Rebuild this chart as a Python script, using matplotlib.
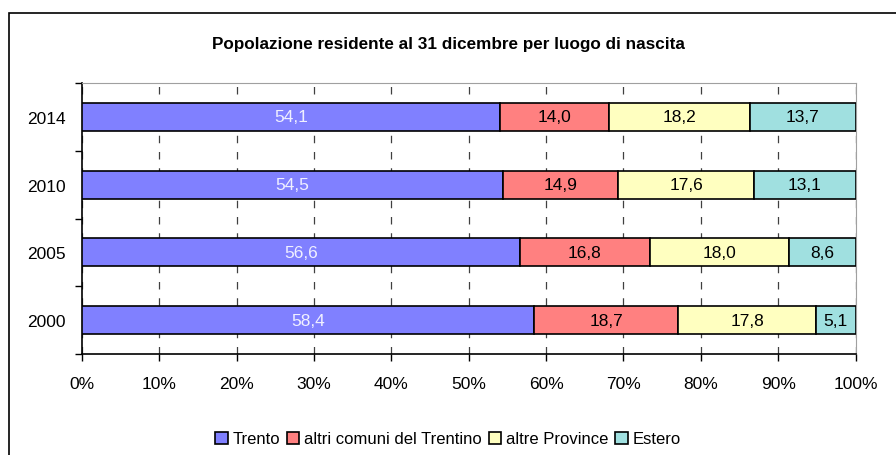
import numpy as np
import matplotlib.pyplot as plt
from matplotlib.patches import Rectangle
from matplotlib.ticker import FuncFormatter

plt.rcParams['font.family'] = ['Liberation Sans', 'DejaVu Sans']

# Dati
anni = ["2000", "2005", "2010", "2014"]
serie = ["Trento", "altri comuni del Trentino", "altre Province", "Estero"]
trento = [58.4, 56.6, 54.5, 54.1]
altri_comuni = [18.7, 16.8, 14.9, 14.0]
altre_province = [17.8, 18.0, 17.6, 18.2]
estero = [5.1, 8.6, 13.1, 13.7]

colori = ["#8080FF", "#FF8080", "#FFFFC0", "#A0E0E0"]
colori_testo = ["#F0F0FF", "black", "black", "black"]

valori = np.array([trento, altri_comuni, altre_province, estero])
# grafico in pila 100%
quote = valori / valori.sum(axis=0) * 100

fig = plt.figure(figsize=(8.96, 4.56), dpi=100)
ax = fig.add_axes([82/896, 1 - 355/456, (855.5 - 82)/896, (355 - 84)/456])

# cornice esterna
fig.patches.append(Rectangle((9/896, -0.05), 1.1, 1 - 14/456 + 0.05,
                             transform=fig.transFigure, fill=False,
                             edgecolor="black", linewidth=1.2))

y = np.arange(len(anni))
left = np.zeros(len(anni))
for i in range(len(serie)):
    ax.barh(y, quote[i], left=left, height=0.41, color=colori[i],
            edgecolor="black", linewidth=1.2, label=serie[i], zorder=3)
    for j in range(len(anni)):
        ax.text(left[j] + quote[i][j] / 2, y[j],
                "{:.1f}".format(valori[i][j]).replace(".", ","),
                ha="center", va="center", fontsize=12.5,
                color=colori_testo[i], zorder=4)
    left += quote[i]

ax.set_xlim(0, 100)
ax.set_ylim(-0.5, len(anni) - 0.5)
ax.set_xticks(np.arange(0, 101, 10))
ax.xaxis.set_major_formatter(FuncFormatter(lambda v, p: "{:d}%".format(int(v))))
ax.set_yticks(y)
ax.set_yticklabels(anni)
ax.set_yticks(np.arange(-0.5, len(anni), 1), minor=True)
ax.tick_params(axis="y", which="major", length=0, pad=12, labelsize=12.5)
ax.tick_params(axis="y", which="minor", length=5, width=1, direction="out")
ax.tick_params(axis="x", length=5, width=1, direction="out", pad=11, labelsize=12.5)

ax.grid(axis="x", linestyle=(0, (6, 7)), color="#404040", linewidth=0.9, zorder=0)
ax.spines["left"].set_linewidth(1.2)
ax.spines["bottom"].set_linewidth(1.2)
ax.spines["top"].set_color("#a0a0a0")
ax.spines["right"].set_color("#a0a0a0")

fig.text(0.5, 1 - 44/456, "Popolazione residente al 31 dicembre per luogo di nascita",
         ha="center", va="center", fontsize=12.3, fontweight="bold")

fig.legend(loc="center", bbox_to_anchor=(0.5, 1 - 440/456), ncol=4, frameon=False,
           fontsize=12, handlelength=0.75, handleheight=0.75, handletextpad=0.3,
           columnspacing=0.4, borderaxespad=0)

fig.savefig("out.png", dpi=100)
